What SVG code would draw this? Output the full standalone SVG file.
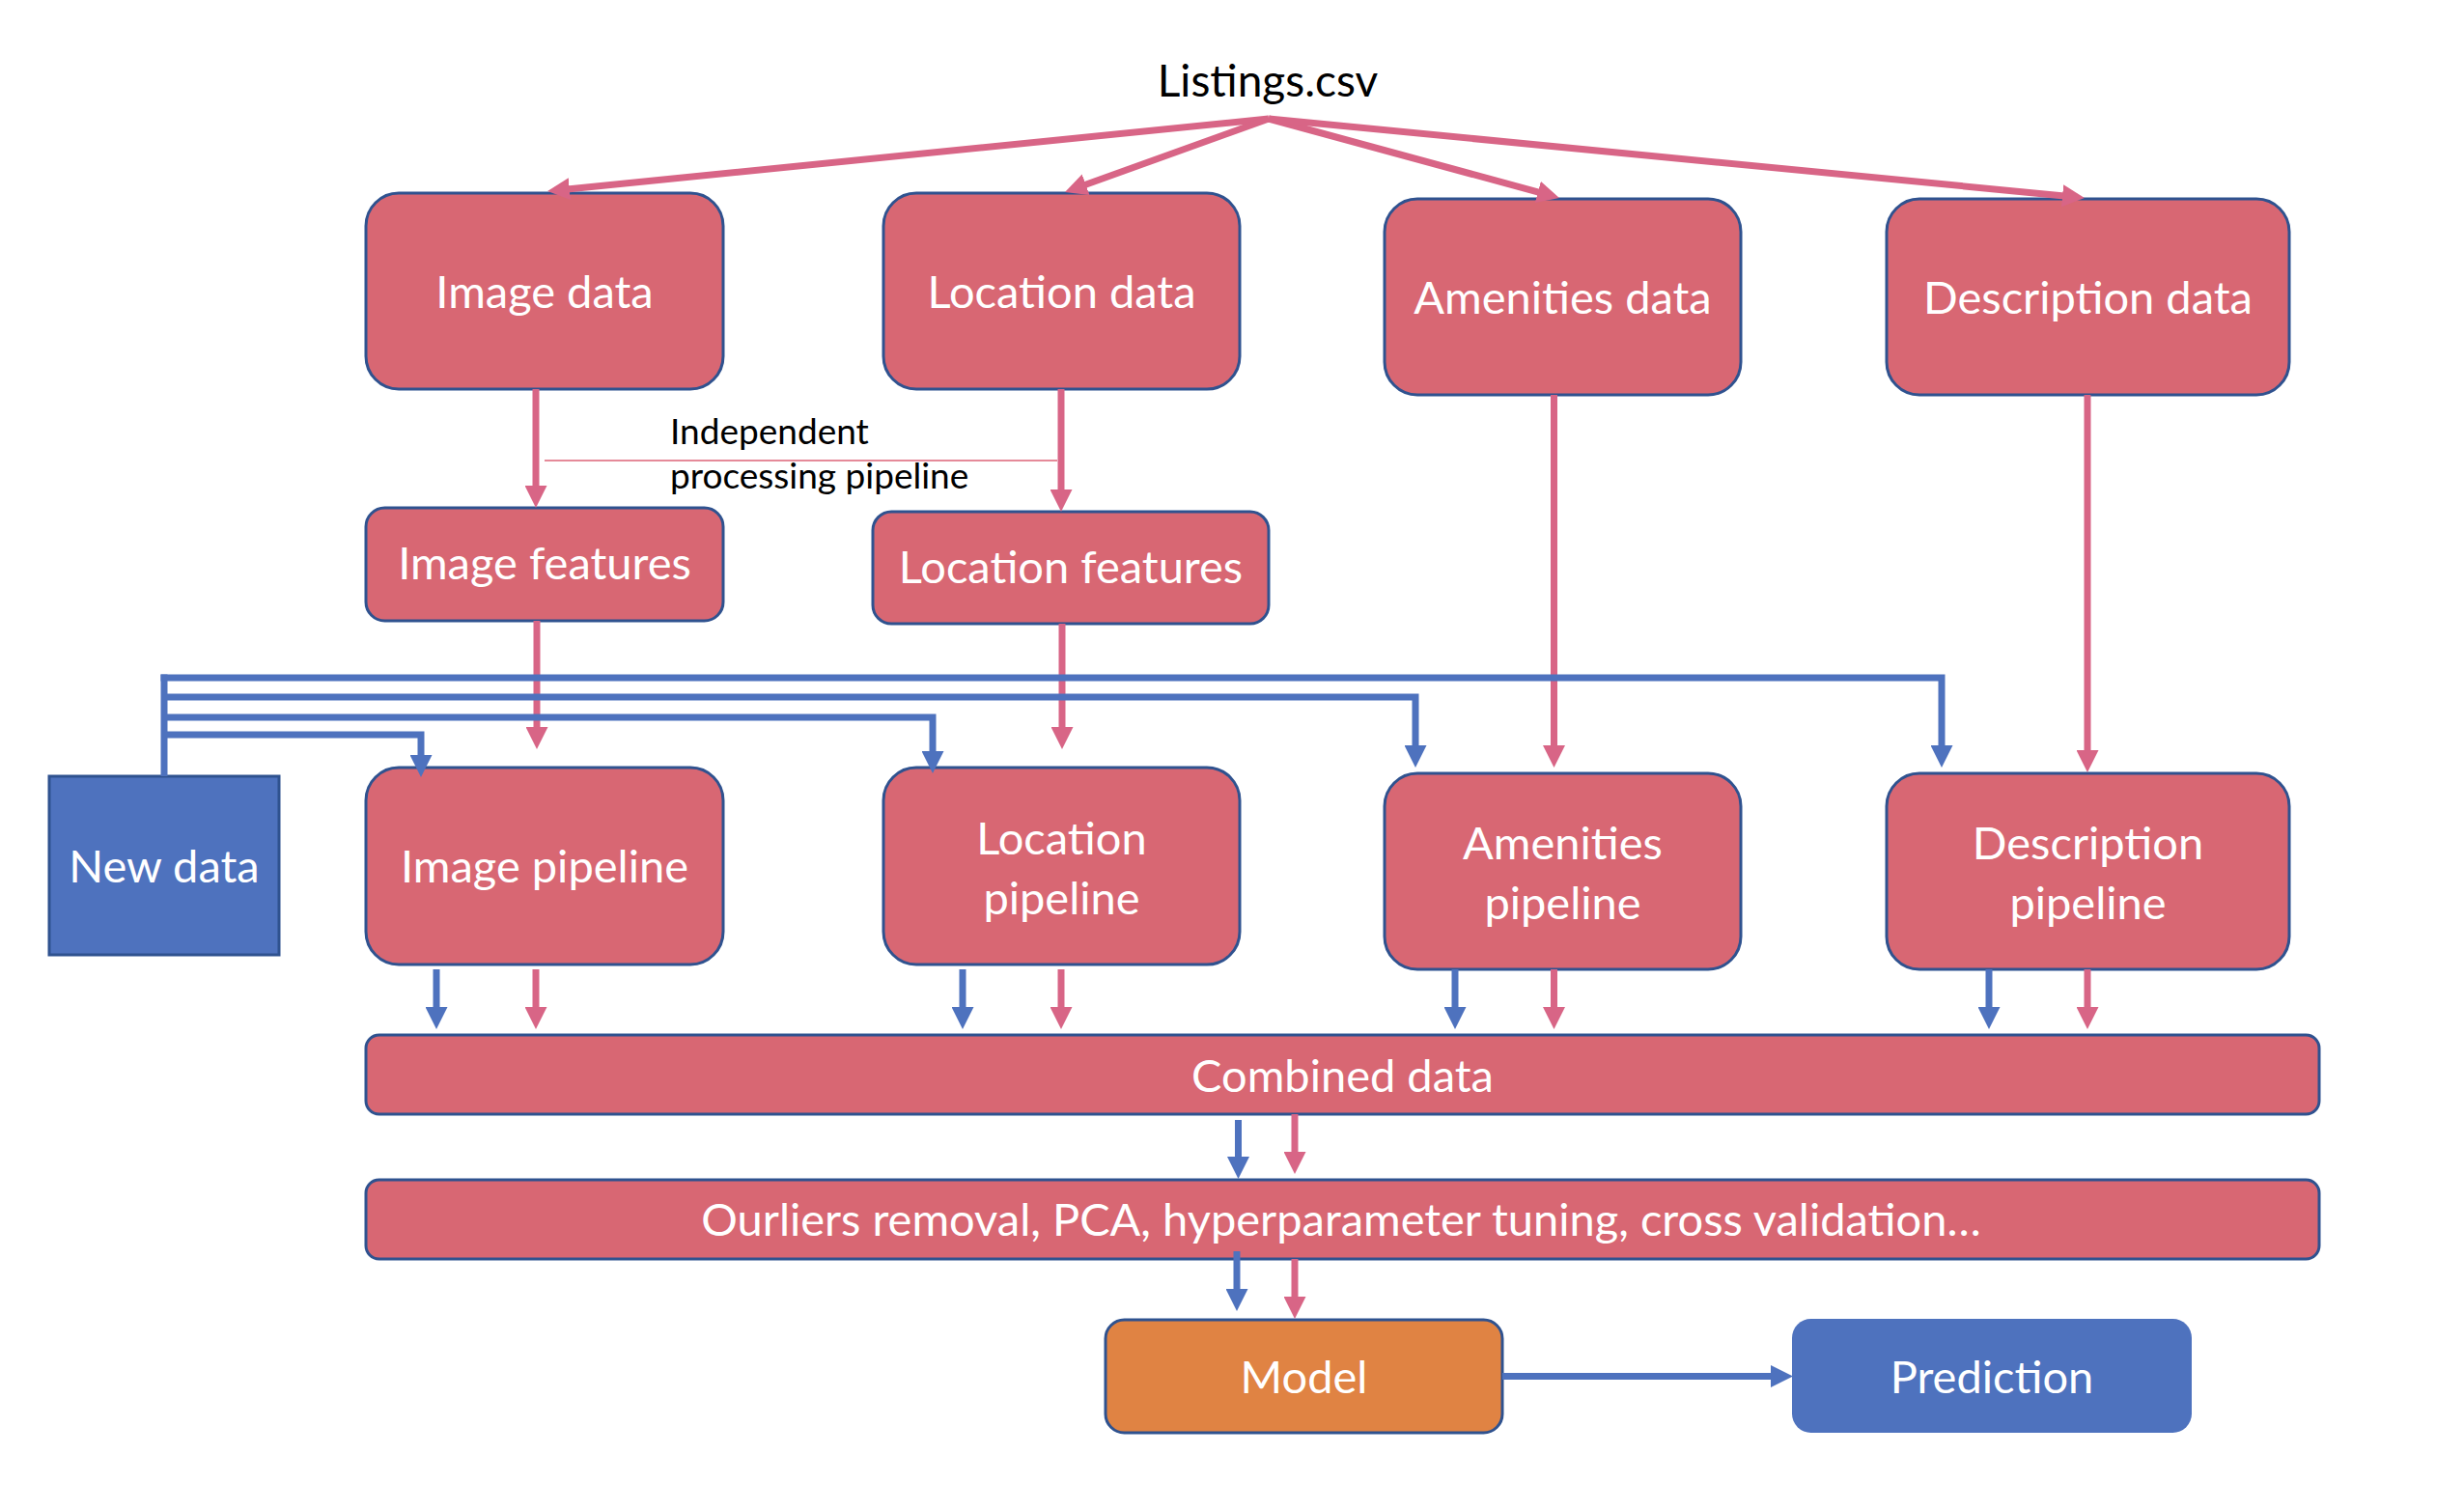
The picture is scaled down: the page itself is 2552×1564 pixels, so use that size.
<svg xmlns="http://www.w3.org/2000/svg" width="2552" height="1564" viewBox="0 0 2552 1564">
<defs>
<style>
.box{fill:#d86773;stroke:#2f528f;stroke-width:3}
.blue{fill:#4e72be;stroke:#2f528f;stroke-width:3}
.pred{fill:#4e72be;stroke:none}
.orange{fill:#e08343;stroke:#2f528f;stroke-width:3}
.lbl{font-family:Lato,"Liberation Sans",sans-serif;font-size:47px;fill:#ffffff;text-anchor:middle}
.dark{font-family:Lato,"Liberation Sans",sans-serif;fill:#000000}
.pk{fill:none;stroke:#d86586;stroke-width:7;marker-end:url(#ap)}
.bl{fill:none;stroke:#4e72be;stroke-width:7;marker-end:url(#ab)}
.bln{fill:none;stroke:#4e72be;stroke-width:7}
</style>
<marker id="ap" markerUnits="userSpaceOnUse" markerWidth="23" markerHeight="23" refX="15" refY="11.5" orient="auto" viewBox="0 0 23 23"><path d="M0,0 L23,11.5 L0,23 Z" fill="#d86586"/></marker>
<marker id="ab" markerUnits="userSpaceOnUse" markerWidth="23" markerHeight="23" refX="15" refY="11.5" orient="auto" viewBox="0 0 23 23"><path d="M0,0 L23,11.5 L0,23 Z" fill="#4e72be"/></marker>
</defs>
<rect width="2552" height="1564" fill="#ffffff"/>

<g id="listings"><text class="dark" x="1313" y="100" font-size="46" text-anchor="middle">Listings.csv</text></g>

<g id="image-data"><rect class="box" x="379" y="200" width="370" height="203" rx="34"/><text class="lbl" x="564" y="319">Image data</text></g>
<g id="location-data"><rect class="box" x="915" y="200" width="369" height="203" rx="34"/><text class="lbl" x="1099.5" y="319">Location data</text></g>
<g id="amenities-data"><rect class="box" x="1434" y="206" width="369" height="203" rx="34"/><text class="lbl" x="1618.5" y="325">Amenities data</text></g>
<g id="description-data"><rect class="box" x="1954" y="206" width="417" height="203" rx="34"/><text class="lbl" x="2162.5" y="325">Description data</text></g>

<g id="independent-note"><text class="dark" font-size="37" x="694" y="460">Independent</text><text class="dark" font-size="37" x="694" y="506">processing pipeline</text></g>

<g id="image-features"><rect class="box" x="379" y="526" width="370" height="117" rx="19.5"/><text class="lbl" x="564" y="600">Image features</text></g>
<g id="location-features"><rect class="box" x="904" y="530" width="410" height="116" rx="19.3"/><text class="lbl" x="1109" y="604">Location features</text></g>

<g id="new-data"><rect class="blue" x="51" y="804" width="238" height="185"/><text class="lbl" x="170" y="914">New data</text></g>
<g id="image-pipeline"><rect class="box" x="379" y="795" width="370" height="204" rx="34"/><text class="lbl" x="564" y="914">Image pipeline</text></g>
<g id="location-pipeline"><rect class="box" x="915" y="795" width="369" height="204" rx="34"/><text class="lbl" x="1099.5" y="885">Location</text><text class="lbl" x="1099.5" y="947">pipeline</text></g>
<g id="amenities-pipeline"><rect class="box" x="1434" y="801" width="369" height="203" rx="34"/><text class="lbl" x="1618.5" y="890">Amenities</text><text class="lbl" x="1618.5" y="952">pipeline</text></g>
<g id="description-pipeline"><rect class="box" x="1954" y="801" width="417" height="203" rx="34"/><text class="lbl" x="2162.5" y="890">Description</text><text class="lbl" x="2162.5" y="952">pipeline</text></g>

<g id="combined-data"><rect class="box" x="379" y="1072" width="2023" height="82" rx="13.7"/><text class="lbl" x="1390.5" y="1131">Combined data</text></g>
<g id="processing"><rect class="box" x="379" y="1222" width="2023" height="82" rx="13.7"/><text class="lbl" x="1389" y="1280">Ourliers removal, PCA, hyperparameter tuning, cross validation…</text></g>
<g id="model"><rect class="orange" x="1145" y="1367" width="411" height="117" rx="19.5"/><text class="lbl" x="1350.5" y="1443">Model</text></g>
<g id="prediction"><rect class="pred" x="1856" y="1366" width="414" height="118" rx="19.7"/><text class="lbl" x="2063" y="1443">Prediction</text></g>

<g id="connectors">
<line x1="564" y1="477" x2="1095" y2="477" stroke="#e58a99" stroke-width="2"/>
<path class="pk" d="M1314,123 L575,197.2"/>
<path class="pk" d="M1314,123 L1110.5,196.3"/>
<path class="pk" d="M1314,123 L1607.3,202.9"/>
<path class="pk" d="M1314,123 L2151,204.2"/>
<path class="pk" d="M555,403 V518"/>
<path class="pk" d="M1099,403 V522"/>
<path class="pk" d="M556,643 V768"/>
<path class="pk" d="M1100,646 V768"/>
<path class="pk" d="M1609.5,409 V787"/>
<path class="pk" d="M2162,409 V792"/>
<path class="bln" d="M170,804 V698.5"/>
<path class="bl" d="M166.5,702 H2011 V787"/>
<path class="bl" d="M170,722 H1466 V787"/>
<path class="bl" d="M170,743 H966 V793"/>
<path class="bl" d="M170,761 H436 V797"/>
<path class="bl" d="M452,1004 V1058"/>
<path class="pk" d="M555,1004 V1058"/>
<path class="bl" d="M997,1004 V1058"/>
<path class="pk" d="M1099,1004 V1058"/>
<path class="bl" d="M1507,1004 V1058"/>
<path class="pk" d="M1609.5,1004 V1058"/>
<path class="bl" d="M2060,1004 V1058"/>
<path class="pk" d="M2162,1004 V1058"/>
<path class="bl" d="M1282.5,1160 V1213"/>
<path class="pk" d="M1341,1154 V1208"/>
<path class="bl" d="M1281,1296 V1350"/>
<path class="pk" d="M1341,1304 V1358"/>
<path class="bl" d="M1556,1425.5 H1849"/>
</g>
</svg>
